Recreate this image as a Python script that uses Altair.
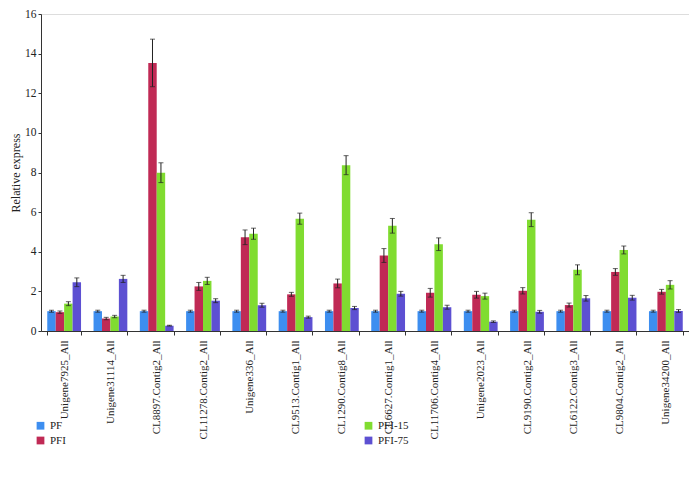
import altair as alt
import pandas as pd

genes = ["Unigene7925_All", "Unigene31114_All", "CL8897.Contig2_All", "CL11278.Contig2_All",
         "Unigene336_All", "CL9513.Contig1_All", "CL1290.Contig8_All", "CL6627.Contig1_All",
         "CL11706.Contig4_All", "Unigene2023_All", "CL9190.Contig2_All", "CL6122.Contig3_All",
         "CL9804.Contig2_All", "Unigene34200_All"]
groups = ["PF", "PFI", "PFI-15", "PFI-75"]

pf = [1.0] * 14
pf_err = [0.05] * 14
pfi = [0.95, 0.63, 13.53, 2.25, 4.73, 1.85, 2.40, 3.81, 1.93, 1.83, 2.03, 1.31, 2.98, 1.98]
pfi_err = [0.06, 0.06, 1.2, 0.2, 0.37, 0.1, 0.22, 0.35, 0.22, 0.17, 0.16, 0.1, 0.17, 0.12]
pfi15 = [1.38, 0.73, 7.99, 2.53, 4.91, 5.67, 8.37, 5.31, 4.38, 1.76, 5.62, 3.09, 4.09, 2.33]
pfi15_err = [0.1, 0.06, 0.5, 0.18, 0.28, 0.28, 0.48, 0.37, 0.32, 0.15, 0.35, 0.25, 0.2, 0.21]
pfi75 = [2.46, 2.63, 0.27, 1.53, 1.30, 0.70, 1.16, 1.88, 1.20, 0.47, 0.97, 1.65, 1.68, 1.01]
pfi75_err = [0.22, 0.18, 0.02, 0.1, 0.1, 0.05, 0.08, 0.12, 0.1, 0.04, 0.07, 0.14, 0.12, 0.07]
y_ticks = [0, 2, 4, 6, 8, 10, 12, 14, 16]

series = {"PF": (pf, pf_err), "PFI": (pfi, pfi_err), "PFI-15": (pfi15, pfi15_err), "PFI-75": (pfi75, pfi75_err)}
rows = []
for g, (vals, errs) in series.items():
    for gene, v, e in zip(genes, vals, errs):
        rows.append({"gene": gene, "group": g, "value": v, "lo": v - e, "hi": v + e})
df = pd.DataFrame(rows)

colors = ["#3d8ef0", "#c02a55", "#80dc30", "#5d50d2"]

FONT = "Liberation Serif"

x = alt.X("gene:N", sort=genes, title=None,
          scale=alt.Scale(paddingInner=0.27, paddingOuter=0.135),
          axis=alt.Axis(labelAngle=-90, tickBand="extent", labelPadding=5, labelLimit=0, grid=False))
xo = alt.XOffset("group:N", sort=groups, scale=alt.Scale(paddingInner=0, paddingOuter=0))

yscale = alt.Scale(domain=[0, 16], nice=False)
yaxis = alt.Axis(values=y_ticks, grid=False, titlePadding=2, labelPadding=2, tickSize=3,
                 labelFont=FONT, titleFont=FONT, labelFontSize=11.5, titleFontSize=12)

base = alt.Chart(df)

bars = base.mark_bar().encode(
    x=x, xOffset=xo,
    y=alt.Y("value:Q", title="Relative express", scale=yscale, axis=yaxis),
    color=alt.Color("group:N",
                    scale=alt.Scale(domain=groups, range=colors),
                    legend=alt.Legend(title=None, orient="none", legendX=-6, legendY=406,
                                      columns=2, columnPadding=297, rowPadding=3,
                                      labelFont=FONT, labelFontSize=11, labelColor="#222",
                                      symbolType="square", symbolSize=60, symbolStrokeWidth=0)),
)

err = base.mark_rule(color="#222", strokeWidth=1).encode(
    x=x, xOffset=xo, y=alt.Y("lo:Q", title="Relative express", scale=yscale, axis=yaxis), y2="hi:Q")
cap_hi = base.mark_tick(color="#222", size=5, thickness=1, orient="horizontal").encode(
    x=x, xOffset=xo, y=alt.Y("hi:Q", title="Relative express", scale=yscale, axis=yaxis))
cap_lo = base.mark_tick(color="#222", size=5, thickness=1, orient="horizontal").encode(
    x=x, xOffset=xo, y=alt.Y("lo:Q", title="Relative express", scale=yscale, axis=yaxis))

chart = alt.layer(bars, err, cap_hi, cap_lo).properties(
    width=648, height=317,
    autosize=alt.AutoSizeParams(type="none"),
    padding={"left": 33, "top": 6, "right": 0, "bottom": 140},
).configure_view(stroke="transparent", strokeWidth=0).configure(font=FONT).configure_axis(
    labelFont=FONT, labelFontSize=11, labelColor="#222", grid=False,
    titleFont=FONT, titleFontSize=12, titleFontWeight="normal", titleColor="#222",
    domainColor="#333", tickColor="#333", tickSize=4,
)

chart.save("out.html", embed_options={"renderer": "svg", "actions": False})
